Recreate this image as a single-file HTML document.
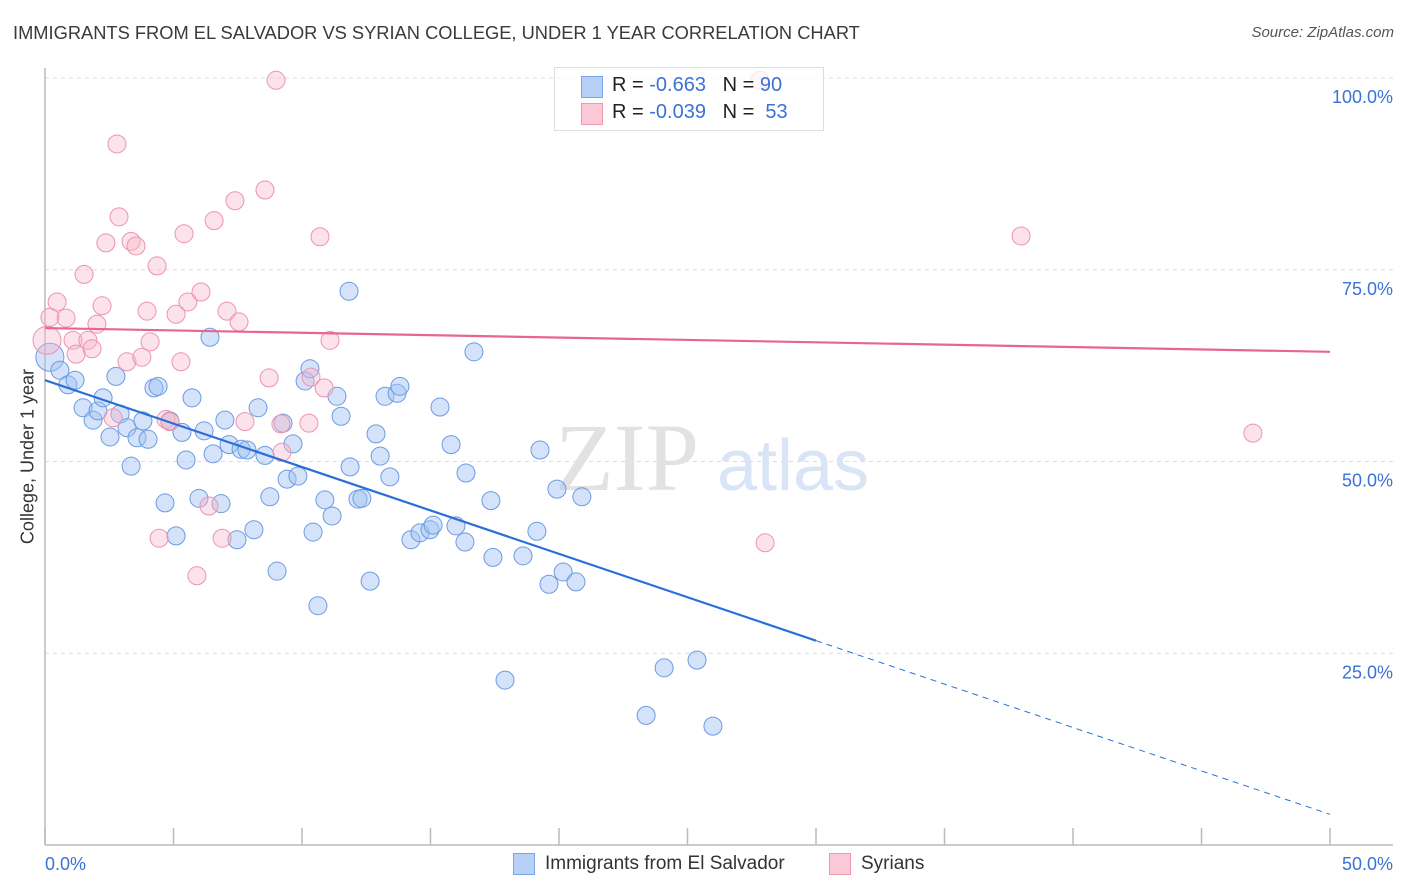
<!DOCTYPE html>
<html><head><meta charset="utf-8">
<style>
body{margin:0;background:#fff;font-family:"Liberation Sans",sans-serif;}
#wrap{position:relative;width:1406px;height:892px;overflow:hidden;}
.t{position:absolute;white-space:nowrap;}
</style></head>
<body>
<div id="wrap">
<div class="t" style="left:13px;top:22px;font-size:18.3px;color:#3a3a3a;">IMMIGRANTS FROM EL SALVADOR VS SYRIAN COLLEGE, UNDER 1 YEAR CORRELATION CHART</div>
<div class="t" style="right:12px;top:24px;font-size:15px;color:#555;font-style:italic;">Source: ZipAtlas.com</div>
<div class="t" style="left:-72px;top:446px;font-size:18px;color:#333;transform:rotate(-90deg);transform-origin:center;width:200px;text-align:center;">College, Under 1 year</div>
<svg id="plot" width="1406" height="892" style="position:absolute;left:0;top:0;"></svg>
<div style="position:absolute;left:554px;top:67px;width:268px;height:62px;border:1px solid #ddd;background:rgba(255,255,255,0.75);">
 <div style="position:absolute;left:26px;top:8px;width:20px;height:20px;background:#b7d0f5;border:1px solid #7ba5e8;"></div>
 <div class="t" style="left:57px;top:6px;font-size:20px;color:#222;">R = <span style="color:#3a72d6">-0.663</span>&nbsp;&nbsp;&nbsp;N = <span style="color:#3a72d6">90</span></div>
 <div style="position:absolute;left:26px;top:35px;width:20px;height:20px;background:#fbc9d7;border:1px solid #ef9ab3;"></div>
 <div class="t" style="left:57px;top:33px;font-size:20px;color:#222;">R = <span style="color:#3a72d6">-0.039</span>&nbsp;&nbsp;&nbsp;N = <span style="color:#3a72d6">&nbsp;53</span></div>
</div>
<div style="position:absolute;left:513px;top:853px;">
 <div style="position:absolute;left:0;top:0;width:20px;height:20px;background:#b7d0f5;border:1px solid #7ba5e8;"></div>
 <div class="t" style="left:32px;top:0px;font-size:19px;color:#333;">Immigrants from El Salvador</div>
</div>
<div style="position:absolute;left:829px;top:853px;">
 <div style="position:absolute;left:0;top:0;width:20px;height:20px;background:#fbc9d7;border:1px solid #ef9ab3;"></div>
 <div class="t" style="left:32px;top:0px;font-size:19px;color:#333;">Syrians</div>
</div>
</div>
<script>
const blueX=[0.19,0.58,0.89,1.17,1.48,1.87,2.06,2.26,2.53,2.76,2.92,3.19,3.35,3.58,3.81,4.01,4.24,4.40,4.67,4.86,5.10,5.33,5.49,5.72,5.99,6.19,6.42,6.54,6.85,7.00,7.16,7.47,7.63,7.86,8.13,8.29,8.56,8.75,9.03,9.26,9.42,9.65,9.84,10.12,10.31,10.43,10.62,10.89,11.17,11.36,11.52,11.83,11.87,12.18,12.33,12.65,12.88,13.04,13.23,13.42,13.70,13.81,14.24,14.59,14.98,15.10,15.37,15.80,15.99,16.34,16.38,16.69,17.35,17.43,17.90,18.60,19.14,19.26,19.61,19.92,20.16,20.66,20.89,23.39,24.09,25.37,25.99];
const blueY=[63.6,61.9,60.0,60.6,57.0,55.4,56.6,58.3,53.2,61.1,56.2,54.4,49.4,53.1,55.3,52.9,59.6,59.8,44.6,55.3,40.3,53.8,50.2,58.3,45.2,54.0,66.2,51.0,44.5,55.4,52.2,39.8,51.6,51.5,41.1,57.0,50.8,45.4,35.7,55.0,47.7,52.3,48.1,60.5,62.1,40.8,31.2,45.0,42.9,58.5,55.9,72.2,49.3,45.1,45.2,34.4,53.6,50.7,58.5,48.0,58.9,59.8,39.8,40.7,41.1,41.7,57.1,52.2,41.6,39.5,48.5,64.3,44.9,37.5,21.5,37.7,40.9,51.5,34.0,46.4,35.6,34.3,45.4,16.9,23.1,24.1,15.5];
const pinkX=[8.99,27.82,2.80,8.56,7.39,6.58,2.88,2.37,3.35,3.54,5.41,10.70,37.98,4.36,1.52,0.47,5.56,6.07,2.22,3.97,5.10,7.08,7.55,0.82,0.19,0.08,1.09,1.67,2.02,1.83,1.21,4.09,11.09,3.19,3.77,5.29,8.72,10.35,10.86,4.71,4.86,7.78,10.27,9.18,9.22,6.38,4.44,6.89,5.91,47.0,28.02,2.65];
const pinkY=[99.7,99.7,91.4,85.4,84.0,81.4,81.9,78.5,78.7,78.1,79.7,79.3,79.4,75.5,74.4,70.8,70.8,72.1,70.3,69.6,69.2,69.6,68.2,68.7,68.8,65.8,65.8,65.8,67.9,64.7,64.0,65.6,65.8,63.0,63.6,63.0,60.9,61.0,59.6,55.5,55.2,55.2,55.0,54.9,51.2,44.2,40.0,40.0,35.1,53.7,39.4,55.7];
const blueTrend=[60.6,4.0];
const pinkTrend=[67.4,64.3];
const yTicks=[25,50,75,100];
const yTickLabels=["25.0%","50.0%","75.0%","100.0%"];
const xTickVals=[0,5,10,15,20,25,30,35,40,45,50];

const X0=45,X1=1330,Y0=845,Y1=78;
const sx=v=>X0+(X1-X0)*v/50;
const sy=v=>Y0-(Y0-Y1)*v/100;
const svg=document.getElementById('plot');
const NS='http://www.w3.org/2000/svg';
function mk(tag,attrs){const e=document.createElementNS(NS,tag);for(const k in attrs)e.setAttribute(k,attrs[k]);svg.appendChild(e);return e;}

yTicks.forEach((v,i)=>{
 const g=mk('line',{x1:X0,x2:1393,y1:sy(v),y2:sy(v),stroke:'#dcdcdc','stroke-dasharray':'4,4','stroke-width':1});
 
 
 const t=mk('text',{x:1393,y:sy(v)+25,'text-anchor':'end','font-size':18,fill:'#3a72d6','font-family':'Liberation Sans, sans-serif'});
 t.textContent=yTickLabels[i];
 
 
});
const ax=mk('line',{x1:X0,x2:X0,y1:68,y2:Y0,stroke:'#bbb','stroke-width':1.5});


const bx=mk('line',{x1:X0,x2:1393,y1:Y0,y2:Y0,stroke:'#bbb','stroke-width':1.5});


xTickVals.forEach(v=>{
 const l=mk('line',{x1:sx(v),x2:sx(v),y1:828,y2:Y0,stroke:'#bbb','stroke-width':1.5});
 
 
});
const xl0=mk('text',{x:45,y:870,'font-size':18,fill:'#3a72d6','font-family':'Liberation Sans, sans-serif'});
xl0.textContent='0.0%';


const xl1=mk('text',{x:1393,y:870,'text-anchor':'end','font-size':18,fill:'#3a72d6','font-family':'Liberation Sans, sans-serif'});
xl1.textContent='50.0%';



const wm=mk('text',{x:555,y:490,'font-size':96,fill:'#e2e2e2','font-family':'Liberation Serif, serif'});
wm.textContent='ZIP';


const wm2=mk('text',{x:717,y:490,'font-size':72,fill:'#d9e4f6','font-family':'Liberation Sans, sans-serif'});
wm2.textContent='atlas';



blueX.forEach((x,i)=>{
 const c=mk('circle',{cx:sx(x),cy:sy(blueY[i]),r:i===0?14:9,fill:'rgba(160,192,242,0.45)',stroke:'#6c9be4','stroke-width':1});
 
 
});
pinkX.forEach((x,i)=>{
 const c=mk('circle',{cx:sx(x),cy:sy(pinkY[i]),r:i===25?14:9,fill:'rgba(248,182,202,0.4)',stroke:'#ee93ad','stroke-width':1});
 
 
});
const bt=v=>blueTrend[0]+(blueTrend[1]-blueTrend[0])*v/50;
const l1=mk('line',{x1:sx(0),y1:sy(bt(0)),x2:sx(30),y2:sy(bt(30)),stroke:'#2a6fd8','stroke-width':2.2});


const l2=mk('line',{x1:sx(30),y1:sy(bt(30)),x2:sx(50),y2:sy(bt(50)),stroke:'#2a6fd8','stroke-width':1,'stroke-dasharray':'6,5'});


const l3=mk('line',{x1:sx(0),y1:sy(pinkTrend[0]),x2:sx(50),y2:sy(pinkTrend[1]),stroke:'#e8658f','stroke-width':2.2});


</script>
</body></html>
